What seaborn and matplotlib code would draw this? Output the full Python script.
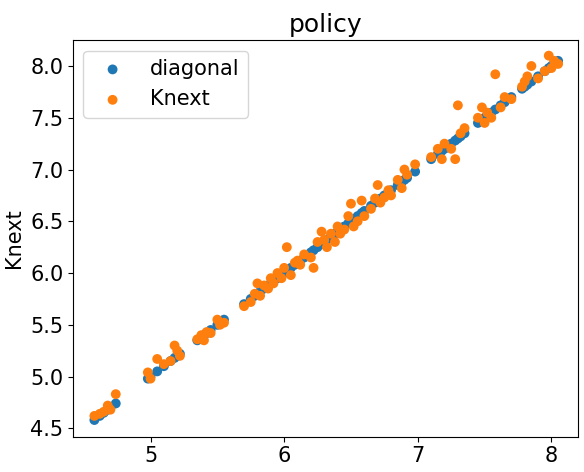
import matplotlib
matplotlib.use('Agg')
import matplotlib.pyplot as plt
import seaborn as sns

K = [4.58, 4.62, 4.65, 4.68, 4.70, 4.74, 4.98, 5.00, 5.05, 5.10, 5.15, 5.18, 5.20, 5.22,
     5.35, 5.38, 5.40, 5.42, 5.45, 5.50, 5.52, 5.55, 5.70, 5.75, 5.78, 5.80, 5.82, 5.85,
     5.88, 5.90, 5.92, 5.95, 5.98, 6.00, 6.02, 6.05, 6.08, 6.10, 6.12, 6.15, 6.20, 6.22,
     6.25, 6.28, 6.30, 6.32, 6.35, 6.38, 6.40, 6.42, 6.45, 6.48, 6.50, 6.52, 6.55, 6.58,
     6.60, 6.65, 6.68, 6.70, 6.72, 6.75, 6.78, 6.80, 6.85, 6.88, 6.90, 6.92, 6.98, 7.10,
     7.15, 7.18, 7.20, 7.25, 7.28, 7.30, 7.32, 7.35, 7.45, 7.48, 7.50, 7.52, 7.55, 7.58,
     7.62, 7.65, 7.70, 7.78, 7.80, 7.82, 7.85, 7.90, 7.95, 7.98, 8.00, 8.02, 8.05]
Knext = [4.62, 4.64, 4.66, 4.72, 4.68, 4.83, 5.04, 4.98, 5.17, 5.12, 5.15, 5.30, 5.25, 5.20,
         5.36, 5.40, 5.35, 5.43, 5.42, 5.55, 5.50, 5.52, 5.68, 5.72, 5.80, 5.90, 5.78, 5.88,
         5.85, 5.95, 5.90, 6.00, 5.95, 6.05, 6.25, 5.98, 6.10, 6.12, 6.08, 6.18, 6.15, 6.05,
         6.30, 6.40, 6.32, 6.25, 6.38, 6.30, 6.45, 6.38, 6.42, 6.55, 6.67, 6.45, 6.50, 6.70,
         6.55, 6.62, 6.72, 6.85, 6.68, 6.73, 6.80, 6.75, 6.90, 6.82, 7.00, 6.95, 7.05, 7.12,
         7.20, 7.10, 7.25, 7.20, 7.10, 7.62, 7.35, 7.40, 7.50, 7.60, 7.45, 7.55, 7.50, 7.92,
         7.60, 7.70, 7.68, 7.80, 7.85, 7.90, 8.00, 7.88, 7.95, 8.10, 7.98, 8.05, 8.02]

fig, ax = plt.subplots(figsize=(5.84, 4.72), dpi=100)
sns.scatterplot(x=K, y=K, ax=ax, color='tab:blue', s=50, edgecolor='none', label='diagonal')
sns.scatterplot(x=K, y=Knext, ax=ax, color='tab:orange', s=50, edgecolor='none', label='Knext')
ax.set_title('policy', fontsize=18)
ax.set_xlabel('K', fontsize=15)
ax.set_ylabel('Knext', fontsize=15)
ax.set_xticks([5, 6, 7, 8])
ax.set_yticks([4.5, 5.0, 5.5, 6.0, 6.5, 7.0, 7.5, 8.0])
ax.set_xlim(4.42, 8.2)
ax.set_ylim(4.42, 8.25)
ax.tick_params(labelsize=15)
ax.legend(loc='upper left', fontsize=15)
fig.subplots_adjust(left=0.125, right=0.99, top=0.915, bottom=0.075)
fig.savefig('out.png')
